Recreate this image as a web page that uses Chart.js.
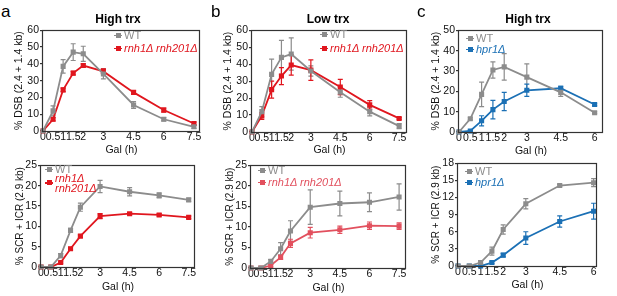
<!DOCTYPE html>
<html>
<head>
<meta charset="utf-8">
<script src="https://cdn.jsdelivr.net/npm/chart.js@4.4.1/dist/chart.umd.min.js"></script>
<style>
  body { margin: 0; background: #fff; }
  #fig { position: relative; width: 617px; height: 296px; overflow: hidden; font-family: "Liberation Sans", Arial, sans-serif; }
  #fig canvas { position: absolute; }
  .lbl { position: absolute; color: #000; white-space: nowrap; }
  .letter { font-size: 17px; line-height: 20px; }
  .ttl { font-size: 12px; font-weight: bold; line-height: 14px; width: 200px; text-align: center; }
  .leg { position: absolute; font-size: 11px; line-height: 12px; white-space: nowrap; }
  .mk { position: absolute; width: 8px; height: 1.6px; }
  .mk i { position: absolute; left: 1.5px; top: -1.7px; width: 5px; height: 5px; }
</style>
</head>
<body>
<div id="fig"></div>
<script>
// time points (h)
var hours75 = [0, 0.5, 1, 1.5, 2, 3, 4.5, 6, 7.5];
var hours6 = [0, 0.5, 1, 1.5, 2, 3, 4.5, 6];

// a: high trx, rnh1 rnh201
var aDsbWT = [0, 12, 38.5, 47, 46, 34, 15.5, 7, 2.5];
var aDsbWTErr = [0, 3, 4, 5, 4.5, 3, 2, 1, 1];
var aDsbRnh = [0, 7, 24.5, 34.5, 39, 35.5, 23, 12.5, 4.5];
var aDsbRnhErr = [0, 1, 1, 1, 1, 1.5, 1, 1.2, 0.8];
var aScrWT = [0, 0, 2.8, 9, 14.7, 19.8, 18.5, 17.6, 16.5];
var aScrWTErr = [0, 0, 0.5, 0.5, 1, 1.5, 1, 0.6, 0.4];
var aScrRnh = [0, 0, 1.1, 4.5, 7.6, 12.5, 13.1, 12.8, 12.2];
var aScrRnhErr = [0, 0, 0.2, 0.3, 0.3, 0.6, 0.3, 0.3, 0.3];

// b: low trx, rnh1 rnh201
var bDsbWT = [0, 12, 34, 44, 46, 36, 23.5, 12, 3.5];
var bDsbWTErr = [0, 3, 9, 10, 9.5, 3, 3, 2.5, 1.5];
var bDsbRnh = [0, 9.5, 25, 33, 39.5, 36.5, 26.5, 16, 8];
var bDsbRnhErr = [0, 2, 5, 5, 6, 6, 4.5, 2.5, 0.5];
var bScrWT = [0, 0, 1.6, 4.7, 9, 14.8, 15.7, 16, 17.3];
var bScrWTErr = [0, 0, 0.5, 1.5, 2.5, 4.2, 3, 2.3, 3.2];
var bScrRnh = [0, 0, 0.6, 2.6, 6, 8.6, 9.3, 10.3, 10.2];
var bScrRnhErr = [0, 0, 0.3, 0.5, 1, 1.3, 0.9, 0.9, 0.8];

// c: high trx, hpr1
var cDsbWT = [0, 6.5, 18.5, 30.5, 32, 27, 19.5, 9.5];
var cDsbWTErr = [0, 0.5, 6, 4, 6.5, 6.5, 2, 0.5];
var cDsbHpr = [0, 0.5, 5.5, 11, 15, 20.5, 21.5, 13.5];
var cDsbHprErr = [0, 0.3, 2.5, 4.5, 4.5, 3, 1, 0.5];
var cScrWT = [0, 0, 0.6, 2.6, 6.4, 10.9, 14.1, 14.6];
var cScrWTErr = [0, 0, 0.3, 0.7, 0.8, 0.9, 0.2, 0.7];
var cScrHpr = [0, 0, 0, 0.6, 1.9, 4.9, 7.8, 9.6];
var cScrHprErr = [0, 0, 0, 0.2, 0.3, 1.1, 1, 1.4];

var GRAY = '#8c8c8c', RED = '#e0161e', PINK = '#e2505e', BLUE = '#1b70b5';
var DSB = '% DSB (2.4 + 1.4 kb)', SCR = '% SCR + ICR (2.9 kb)';

var fig = document.getElementById('fig');

// error bars + frame
var errPlugin = {
  id: 'err',
  beforeDatasetsDraw: function (chart) {
    var c = chart.ctx, xs = chart.scales.x, ys = chart.scales.y;
    chart.data.datasets.forEach(function (ds) {
      if (!ds.err) return;
      c.save();
      c.strokeStyle = ds.borderColor;
      c.lineWidth = 1.2;
      ds.data.forEach(function (p, i) {
        var e = ds.err[i];
        if (!e) return;
        var x = xs.getPixelForValue(p.x);
        var y1 = ys.getPixelForValue(p.y - e), y2 = ys.getPixelForValue(p.y + e);
        c.beginPath();
        c.moveTo(x, y1); c.lineTo(x, y2);
        c.moveTo(x - 2.5, y1); c.lineTo(x + 2.5, y1);
        c.moveTo(x - 2.5, y2); c.lineTo(x + 2.5, y2);
        c.stroke();
      });
      c.restore();
    });
  },
  afterDraw: function (chart) {
    var a = chart.chartArea, c = chart.ctx;
    c.save();
    c.strokeStyle = '#333';
    c.lineWidth = 1.2;
    c.strokeRect(Math.round(a.left) - 0.5, Math.round(a.top) + 0.5, Math.round(a.right - a.left), Math.round(a.bottom - a.top));
    c.restore();
  }
};

function series(label, xs, ys, err, color) {
  return {
    label: label,
    data: xs.map(function (x, i) { return { x: x, y: ys[i] }; }),
    err: err,
    borderColor: color,
    backgroundColor: color,
    borderWidth: 1.8,
    pointStyle: 'rect',
    pointRadius: 3.6,
    pointBorderWidth: 0,
    clip: 5
  };
}

function panel(g) {
  var cl = Math.round(g.yt - 6), ct = Math.round(g.t - 6);
  var cr = Math.round(g.r + 8), cb = Math.round(g.xt + 6);
  var cv = document.createElement('canvas');
  cv.width = cr - cl; cv.height = cb - ct;
  cv.style.left = cl + 'px'; cv.style.top = ct + 'px';
  fig.appendChild(cv);
  new Chart(cv.getContext('2d'), {
    type: 'line',
    data: { datasets: g.sets },
    options: {
      responsive: false,
      animation: false,
      devicePixelRatio: 1,
      layout: { padding: { left: 0, top: g.t - ct, right: cr - g.r, bottom: 0 } },
      plugins: { legend: { display: false }, tooltip: { enabled: false } },
      scales: {
        x: {
          type: 'linear', min: 0, max: g.xMax,
          afterBuildTicks: function (s) { s.ticks = g.hours.map(function (v) { return { value: v }; }); },
          afterFit: function (s) { s.height = cb - g.b; },
          grid: { display: false, drawTicks: false },
          border: { display: false },
          ticks: { autoSkip: false, maxRotation: 0, padding: 0, color: '#111', font: { family: 'Liberation Sans', size: 10.5 },
                   callback: function (v) { return String(v); } },
          title: { display: true, text: 'Gal (h)', color: '#111', padding: 0, font: { family: 'Liberation Sans', size: 10.5 } }
        },
        y: {
          min: 0, max: g.yMax,
          afterFit: function (s) { s.width = g.l - cl; },
          grid: { display: true, drawOnChartArea: false, drawTicks: true, tickLength: 3, color: '#333', lineWidth: 1.2 },
          border: { display: false },
          ticks: { stepSize: g.step, padding: 1, color: '#111', font: { family: 'Liberation Sans', size: 10.5 } },
          title: { display: true, text: g.ytitle, color: '#111', padding: 0, font: { family: 'Liberation Sans', size: g.ts } }
        }
      }
    },
    plugins: [errPlugin]
  });
}

function text(cls, html, x, y) {
  var d = document.createElement('div');
  d.className = 'lbl ' + cls;
  d.innerHTML = html;
  d.style.left = x + 'px'; d.style.top = y + 'px';
  fig.appendChild(d);
}

function legend(x, rows) {
  rows.forEach(function (r) {
    var d = document.createElement('div');
    d.className = 'leg';
    d.style.left = x + 'px';
    d.style.top = (r.y - 6) + 'px';
    d.style.color = r.color;
    if (r.italic) d.style.fontStyle = 'italic';
    if (r.mark !== false) {
      var m = document.createElement('span');
      m.className = 'mk';
      m.style.background = r.color;
      m.style.left = '0px';
      m.style.top = (r.my !== undefined ? r.my : 5.5) + 'px';
      var sq = document.createElement('i');
      sq.style.background = r.color;
      m.appendChild(sq);
      d.appendChild(m);
    }
    var t = document.createElement('span');
    t.style.marginLeft = '10px';
    t.textContent = r.text;
    d.appendChild(t);
    fig.appendChild(d);
  });
}

panel({ l: 43, t: 29, r: 200, b: 131, yt: 19, xt: 150, xMax: 7.8, yMax: 60, step: 10, hours: hours75, ytitle: DSB, ts: 10.5,
  sets: [series('WT', hours75, aDsbWT, aDsbWTErr, GRAY), series('rnh1Δ rnh201Δ', hours75, aDsbRnh, aDsbRnhErr, RED)] });
panel({ l: 252, t: 29, r: 407, b: 132, yt: 228, xt: 150, xMax: 7.9, yMax: 60, step: 10, hours: hours75, ytitle: DSB, ts: 10.5,
  sets: [series('WT', hours75, bDsbWT, bDsbWTErr, GRAY), series('rnh1Δ rnh201Δ', hours75, bDsbRnh, bDsbRnhErr, RED)] });
panel({ l: 459, t: 29, r: 603, b: 132, yt: 436, xt: 151, xMax: 6.37, yMax: 50, step: 10, hours: hours6, ytitle: DSB, ts: 10.5,
  sets: [series('WT', hours6, cDsbWT, cDsbWTErr, GRAY), series('hpr1Δ', hours6, cDsbHpr, cDsbHprErr, BLUE)] });
panel({ l: 41, t: 164, r: 195, b: 267, yt: 20, xt: 287, xMax: 7.82, yMax: 25, step: 5, hours: hours75, ytitle: SCR, ts: 10,
  sets: [series('WT', hours75, aScrWT, aScrWTErr, GRAY), series('rnh1Δ rnh201Δ', hours75, aScrRnh, aScrRnhErr, RED)] });
panel({ l: 251, t: 164, r: 406, b: 268, yt: 230, xt: 288, xMax: 7.85, yMax: 25, step: 5, hours: hours75, ytitle: SCR, ts: 10,
  sets: [series('WT', hours75, bScrWT, bScrWTErr, GRAY), series('rnh1Δ rnh201Δ', hours75, bScrRnh, bScrRnhErr, PINK)] });
panel({ l: 458, t: 162, r: 597, b: 266, yt: 436, xt: 285, xMax: 6.15, yMax: 18, step: 3, hours: hours6, ytitle: SCR, ts: 10,
  sets: [series('WT', hours6, cScrWT, cScrWTErr, GRAY), series('hpr1Δ', hours6, cScrHpr, cScrHprErr, BLUE)] });

text('letter', 'a', 1, 2);
text('letter', 'b', 211, 2);
text('letter', 'c', 417, 2);
text('ttl', 'High trx', 18, 12);
text('ttl', 'Low trx', 228, 12);
text('ttl', 'High trx', 428, 12);

legend(114, [{ y: 35, text: 'WT', color: GRAY }, { y: 48, text: 'rnh1Δ rnh201Δ', color: RED, italic: true }]);
legend(320, [{ y: 34, text: 'WT', color: GRAY }, { y: 48, text: 'rnh1Δ rnh201Δ', color: RED, italic: true }]);
legend(466, [{ y: 38, text: 'WT', color: GRAY }, { y: 49, text: 'hpr1Δ', color: BLUE, italic: true }]);
legend(45, [{ y: 169, text: 'WT', color: GRAY }, { y: 178, text: 'rnh1Δ', color: RED, italic: true, my: 10 },
            { y: 188, text: 'rnh201Δ', color: RED, italic: true, mark: false }]);
legend(258, [{ y: 170, text: 'WT', color: GRAY }, { y: 182, text: 'rnh1Δ rnh201Δ', color: PINK, italic: true }]);
legend(465, [{ y: 171, text: 'WT', color: GRAY }, { y: 182, text: 'hpr1Δ', color: BLUE, italic: true }]);
</script>
</body>
</html>
